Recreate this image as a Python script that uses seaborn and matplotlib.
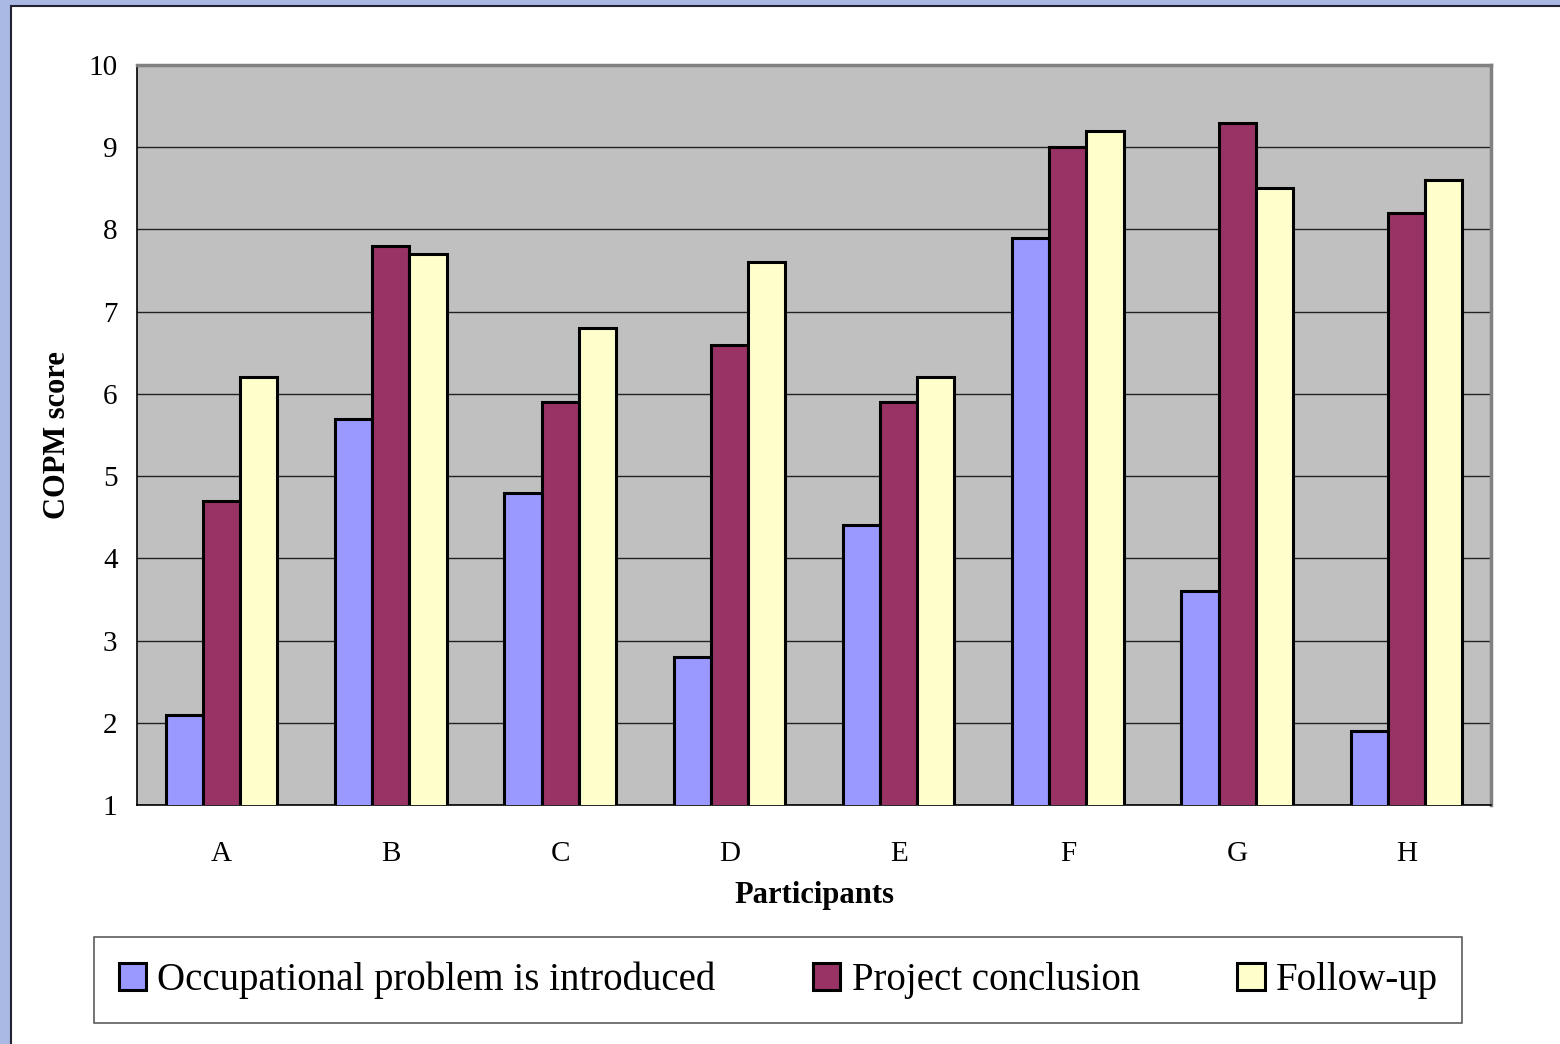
import numpy as np
import pandas as pd
import matplotlib.pyplot as plt
import matplotlib.patches as mpatches
import seaborn as sns

# values
participants = ["A", "B", "C", "D", "E", "F", "G", "H"]
series = ["Occupational problem is introduced", "Project conclusion", "Follow-up"]
introduced = [2.1, 5.7, 4.8, 2.8, 4.4, 7.9, 3.6, 1.9]
conclusion = [4.7, 7.8, 5.9, 6.6, 5.9, 9.0, 9.3, 8.2]
follow_up = [6.2, 7.7, 6.8, 7.6, 6.2, 9.2, 8.5, 8.6]
colors = ["#9999FF", "#993366", "#FFFFCC"]

df = pd.DataFrame({
    "Participant": participants * 3,
    "Series": np.repeat(series, len(participants)),
    "Score": introduced + conclusion + follow_up,
})

sns.set_style("white")
plt.rcParams["font.family"] = ["Liberation Serif", "DejaVu Serif"]
plt.rcParams["text.color"] = "black"
plt.rcParams["axes.labelcolor"] = "black"
plt.rcParams["xtick.color"] = "black"
plt.rcParams["ytick.color"] = "black"

fig = plt.figure(figsize=(15.6, 10.44), dpi=100)
fig.patch.set_facecolor("#AAB9E3")
# white slide area with dark edge
fig.patches.append(mpatches.Rectangle((11 / 1560, -0.01), 1.0, 1 - 6 / 1044 + 0.01,
                                      transform=fig.transFigure, facecolor="white",
                                      edgecolor="#222233", linewidth=1.5, zorder=-5))

ax = fig.add_axes([137 / 1560, 1 - 805 / 1044, (1491 - 137) / 1560, (805 - 65) / 1044])
ax.set_facecolor("#C0C0C0")

sns.barplot(data=df, x="Participant", y="Score", hue="Series", palette=colors,
            width=0.66, edgecolor="black", linewidth=2.2, saturation=1,
            ax=ax, legend=True, zorder=3)

ax.set_ylim(1, 10)
ax.set_xlim(-0.5, 7.5)
ax.set_yticks(range(1, 11))
ax.yaxis.grid(True, color="#222222", linewidth=1, zorder=1)
ax.set_axisbelow(True)

ax.set_xticks(np.arange(-0.5, 8, 1))
ax.set_xticklabels([])
ax.set_xticks(range(8), minor=True)
ax.set_xticklabels(participants, minor=True)
ax.tick_params(axis="x", which="major", direction="out", length=8, width=1, color="black")
ax.tick_params(axis="x", which="minor", length=0, pad=26, labelsize=21)
ax.tick_params(axis="y", direction="out", length=8, width=1, color="black", labelsize=21, pad=6)

for side in ["top", "right"]:
    ax.spines[side].set_color("#808080")
    ax.spines[side].set_linewidth(2.5)
for side in ["left", "bottom"]:
    ax.spines[side].set_color("black")
    ax.spines[side].set_linewidth(1.2)

ax.set_xlabel("Participants", fontsize=22, fontweight="bold", labelpad=10)
ax.set_ylabel("COPM score", fontsize=22, fontweight="bold", labelpad=12)

handles, labels = ax.get_legend_handles_labels()
ax.get_legend().remove()
leg = fig.legend(handles, labels, loc="center", bbox_to_anchor=(0.499, 0.061), ncol=3,
                 fontsize=28, frameon=True, fancybox=False, edgecolor="#333333",
                 handlelength=0.7, handleheight=0.7, handletextpad=0.3,
                 columnspacing=2.5, borderpad=0.62, borderaxespad=0)
leg.get_frame().set_linewidth(1.2)

fig.savefig("out.png", dpi=100, facecolor=fig.get_facecolor())
